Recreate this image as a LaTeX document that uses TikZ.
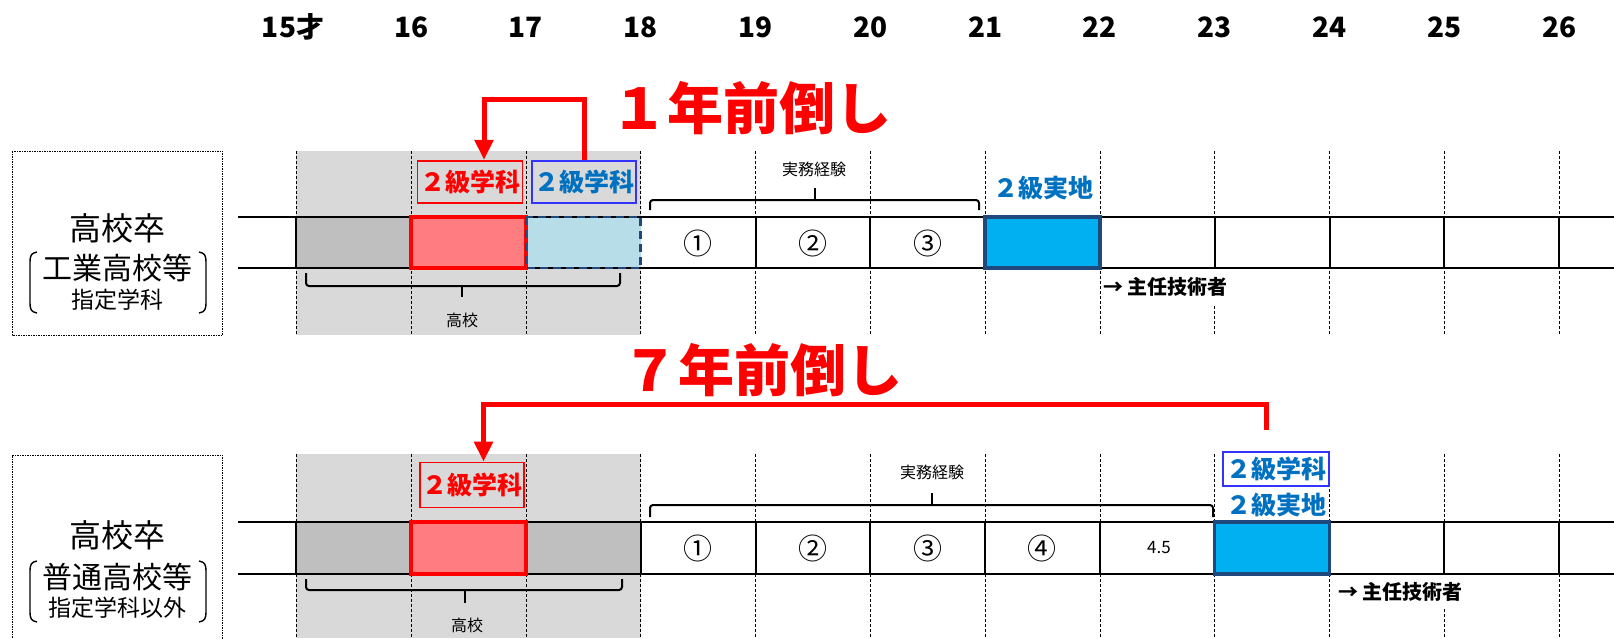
\documentclass[tikz,border=0pt]{standalone}
\usepackage{fontspec}
\setmainfont{Noto Sans CJK JP}
\usetikzlibrary{arrows.meta}
\definecolor{bgGray}{HTML}{D9D9D9}
\definecolor{cellGray}{HTML}{BFBFBF}
\definecolor{redFill}{HTML}{FF7C80}
\definecolor{ltBlue}{HTML}{B7DEE8}
\definecolor{navyB}{HTML}{1F497D}
\definecolor{cyanB}{HTML}{00B0F0}
\definecolor{txtBlue}{HTML}{0070C0}
\definecolor{boxBlue}{HTML}{3333FF}
\newcommand\fsz[1]{\fontsize{#1}{#1}\selectfont}
\begin{document}
\begin{tikzpicture}[x=1pt,y=-1pt,
  agelbl/.style={font=\fsz{28}\bfseries, inner sep=0pt},
  vline/.style={line width=0.8pt, dash pattern=on 3pt off 2pt},
  rowline/.style={line width=2pt},
  cellline/.style={line width=2pt},
  framebox/.style={line width=1pt, dash pattern=on 1.5pt off 1pt},
  bracket/.style={line width=1.4pt},
  bracepath/.style={line width=2pt, rounded corners=3pt},
  smalltxt/.style={font=\fsz{16}, inner sep=0pt},
  circnum/.style={font=\fsz{29}, inner sep=0pt},
  redbox/.style={draw=red, line width=1.6pt, text=red, font=\fsz{25}\bfseries, inner sep=0pt},
  bluebox/.style={draw=boxBlue, line width=1.6pt, text=txtBlue, font=\fsz{25}\bfseries, inner sep=0pt},
  bluetxt/.style={text=txtBlue, font=\fsz{25}\bfseries, inner sep=0pt},
  bigred/.style={text=red, font=\fsz{56}\bfseries, inner sep=0pt},
  redarrow/.style={draw=red, line width=5pt, -{Triangle[width=18pt,length=20pt]}},
  chief/.style={font=\fsz{20}\bfseries, fill=white, anchor=west, inner xsep=1pt, inner ysep=7pt},
  lefttxt/.style={inner sep=0pt}
]
\useasboundingbox (0,0) rectangle (1614,638);

% gray backgrounds (high school years)
\fill[bgGray] (296.3,151) rectangle (640.7,335);
\fill[bgGray] (296.3,454) rectangle (640.7,638);

% dashed column lines and age labels
\foreach \k in {0,...,11} {
  \pgfmathsetmacro{\xx}{296.3+114.8*\k}
  \draw[vline] (\xx,151) -- (\xx,335);
  \draw[vline] (\xx,454) -- (\xx,640);
}
\node[agelbl] (a0) at (293,27) {15才};
\foreach \k/\t in {1/16,2/17,3/18,4/19,5/20,6/21,7/22,8/23,9/24,10/25,11/26} {
  \pgfmathsetmacro{\xx}{296.3+114.8*\k}
  \node[agelbl] (a\k) at (\xx,27) {\t};
}

% ---------- upper timeline ----------
\draw[framebox] (12,151) rectangle (222.5,335);
\node[lefttxt, font=\fsz{32}] (l1a) at (117,228) {高校卒};
\node[lefttxt, font=\fsz{30}] (l1b) at (117,268) {工業高校等};
\node[lefttxt, font=\fsz{23}] (l1c) at (117,300) {指定学科};
\draw[bracket] (37,252) .. controls (31,253) and (30,256) .. (30,262) -- (30,303) .. controls (30,309) and (31,312) .. (37,313);
\draw[bracket] (199,252) .. controls (205,253) and (206,256) .. (206,262) -- (206,303) .. controls (206,309) and (205,312) .. (199,313);

\fill[cellGray] (296.3,217) rectangle (411.1,268);
\fill[ltBlue] (525.9,217) rectangle (640.7,268);
\draw[rowline] (238,217) -- (1614,217);
\draw[rowline] (238,268) -- (1614,268);
\draw[cellline] (296.3,217) -- (296.3,268);
\draw[red, fill=redFill, line width=4pt] (411.1,217) rectangle (525.9,268);
\draw[navyB, line width=2.5pt, dash pattern=on 8pt off 5pt] (525.9,217) rectangle (640.7,268);
\foreach \xx in {755.5,870.3,1214.7,1329.5,1444.3,1559.1}
  \draw[cellline] (\xx,217) -- (\xx,268);
\draw[navyB, fill=cyanB, line width=3.5pt] (985.1,217) rectangle (1099.9,268);
\node[circnum] (c11) at (698,243) {①};
\node[circnum] (c12) at (813,243) {②};
\node[circnum] (c13) at (928,243) {③};

% braces upper
\draw[bracepath] (306,273) -- (306,286) -- (620,286) -- (620,273);
\draw[line width=2pt] (462,286) -- (462,297);
\node[smalltxt] (hs1) at (462,320) {高校};
\draw[bracepath] (650,210) -- (650,200) -- (979,200) -- (979,210);
\draw[line width=2pt] (815,200) -- (815,188);
\node[smalltxt] (ex1) at (814,169) {実務経験};

\node[redbox, minimum width=105pt, minimum height=42.5pt] (tr) at (470,182) {２級学科};
\node[bluebox, minimum width=104pt, minimum height=42.5pt] (tb) at (584,182) {２級学科};
\node[bluetxt] (tj) at (1043,188) {２級実地};
\node[chief] (ch1) at (1102,287) {→ 主任技術者};
\node[bigred] (y1) at (751,108) {１年前倒し};
\draw[redarrow] (tb.north) -- ++(0,-60.7) -| ([xshift=14pt]tr.north);

% ---------- lower timeline ----------
\draw[framebox] (12,650) -- (12,455) -- (222.5,455) -- (222.5,650);
\node[lefttxt, font=\fsz{32}] (l2a) at (117,535) {高校卒};
\node[lefttxt, font=\fsz{30}] (l2b) at (117,577) {普通高校等};
\node[lefttxt, font=\fsz{23}] (l2c) at (117,608) {指定学科以外};
\draw[bracket] (37,561) .. controls (31,562) and (30,565) .. (30,571) -- (30,612) .. controls (30,618) and (31,621) .. (37,622);
\draw[bracket] (199,561) .. controls (205,562) and (206,565) .. (206,571) -- (206,612) .. controls (206,618) and (205,621) .. (199,622);

\fill[cellGray] (296.3,522) rectangle (411.1,574);
\fill[cellGray] (525.9,522) rectangle (640.7,574);
\draw[rowline] (238,522) -- (1614,522);
\draw[rowline] (238,574) -- (1614,574);
\foreach \xx in {296.3,640.7,755.5,870.3,985.1,1099.9,1444.3,1559.1}
  \draw[cellline] (\xx,522) -- (\xx,574);
\draw[red, fill=redFill, line width=4pt] (411.1,522) rectangle (525.9,574);
\draw[navyB, fill=cyanB, line width=3.5pt] (1214.7,522) rectangle (1329.5,574);
\node[circnum] (c21) at (698,548) {①};
\node[circnum] (c22) at (813,548) {②};
\node[circnum] (c23) at (928,548) {③};
\node[circnum] (c24) at (1042,548) {④};
\node[smalltxt, font=\fsz{17}] (c25) at (1159,548) {4.5};

% braces lower
\draw[bracepath] (306,579) -- (306,590) -- (622,590) -- (622,579);
\draw[line width=2pt] (465,590) -- (465,603);
\node[smalltxt] (hs2) at (467,625) {高校};
\draw[bracepath] (650,517) -- (650,505) -- (1213,505) -- (1213,517);
\draw[line width=2pt] (932,505) -- (932,493);
\node[smalltxt] (ex2) at (932,472) {実務経験};

\node[redbox, minimum width=104.5pt, minimum height=45pt] (br) at (472,485) {２級学科};
\node[bluebox, minimum width=106pt, minimum height=34pt] (bb) at (1276,469) {２級学科};
\node[bluetxt] (bj) at (1276,505) {２級実地};
\node[chief] (ch2) at (1337,592) {→ 主任技術者};
\node[bigred] (y7) at (762,370) {７年前倒し};
\coordinate (bs) at (1266,430);
\draw[redarrow] (bs) -- ++(0,-26) -| ([xshift=11.5pt]br.north);
\end{tikzpicture}
\end{document}
